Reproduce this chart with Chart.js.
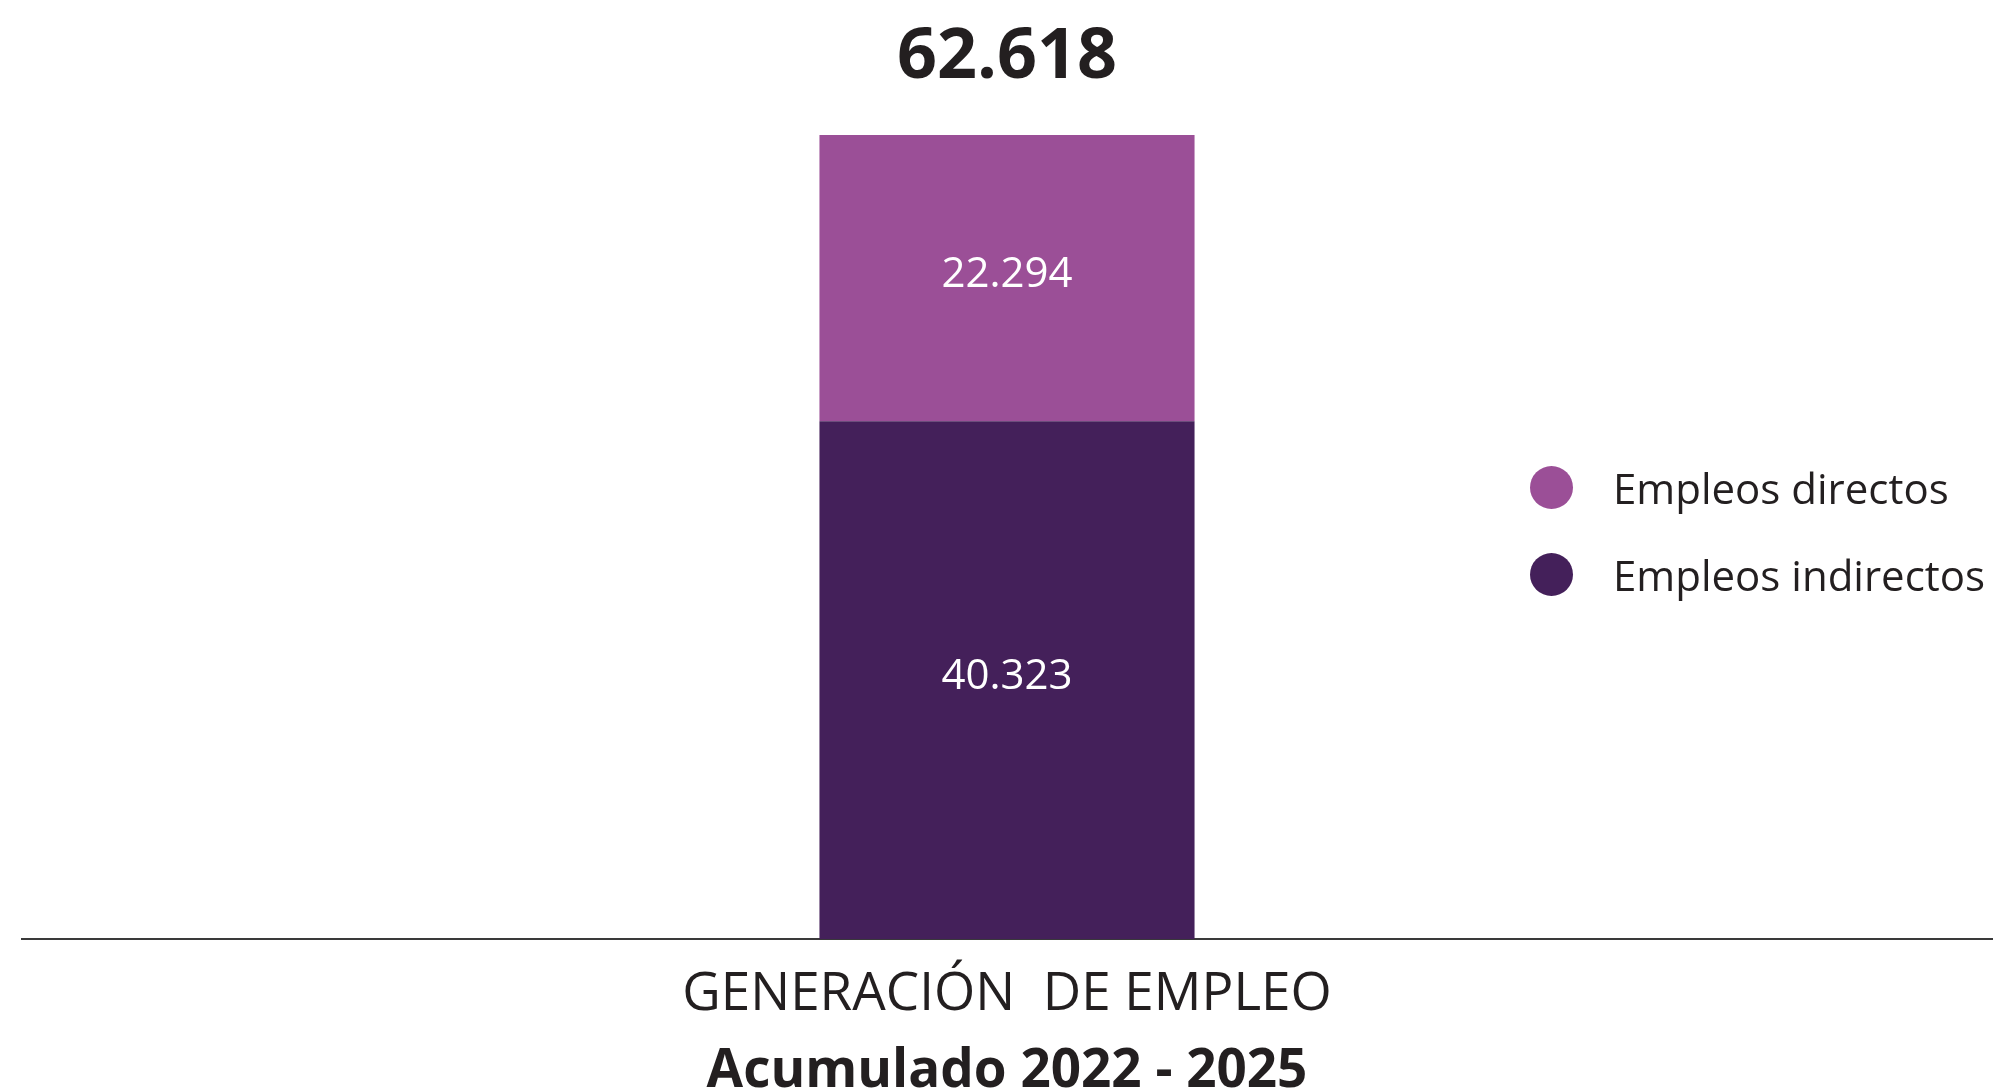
<!DOCTYPE html>
<html lang="es">
<head>
    <meta charset="UTF-8">
    <title>Generación de empleo</title>
    <script src="https://cdn.jsdelivr.net/npm/chart.js@4.4.1/dist/chart.umd.min.js"></script>
    <style>
        html, body {
            margin: 0;
            padding: 0;
            background: #ffffff;
        }
        .wrap {
            position: relative;
            width: 2003px;
            height: 1090px;
        }
        .legend {
            position: absolute;
            left: 1530px;
            top: 444px;
            font-family: 'Open Sans', sans-serif;
            font-size: 42px;
            color: #231f20;
        }
        .legend-item {
            display: flex;
            align-items: center;
            height: 87px;
        }
        .legend-dot {
            width: 43px;
            height: 43px;
            border-radius: 50%;
            margin-right: 40px;
        }
    </style>
</head>
<body>
<div class="wrap">
    <canvas id="empleoChart" width="2003" height="1090"></canvas>
    <div class="legend" id="legend"></div>
</div>
<script>
    // data
    const categories = ['GENERACIÓN  DE EMPLEO'];
    const subtitle = 'Acumulado 2022 - 2025';
    const seriesNames = ['Empleos indirectos', 'Empleos directos'];
    const indirectos = [40323];
    const directos = [22294];
    const totalLabel = '62.618';

    const colorDirectos = '#9b4f97';
    const colorIndirectos = '#44205a';
    const textColor = '#231f20';

    function fmt(n) {
        return String(n).replace(/\B(?=(\d{3})+(?!\d))/g, '.');
    }

    // white numbers inside each segment + total above the stack
    const labelsPlugin = {
        id: 'labels',
        afterDatasetsDraw(chart) {
            const ctx = chart.ctx;
            ctx.save();
            ctx.fillStyle = '#ffffff';
            ctx.font = '42px "Open Sans"';
            ctx.textAlign = 'center';
            ctx.textBaseline = 'middle';
            chart.data.datasets.forEach((ds, i) => {
                chart.getDatasetMeta(i).data.forEach((bar, j) => {
                    const mid = (bar.y + bar.base) / 2;
                    ctx.fillText(fmt(ds.data[j]), bar.x, mid - 3);
                });
            });
            const top = chart.getDatasetMeta(chart.data.datasets.length - 1).data[0];
            ctx.fillStyle = textColor;
            ctx.font = 'bold 70px "Open Sans"';
            ctx.textBaseline = 'alphabetic';
            ctx.fillText(totalLabel, top.x, top.y - 57);
            ctx.restore();
        }
    };

    const chart = new Chart(document.getElementById('empleoChart'), {
        type: 'bar',
        data: {
            labels: categories,
            datasets: [{
                label: seriesNames[0],
                data: indirectos,
                backgroundColor: colorIndirectos
            }, {
                label: seriesNames[1],
                data: directos,
                backgroundColor: colorDirectos
            }]
        },
        options: {
            responsive: false,
            animation: false,
            datasets: {
                bar: { categoryPercentage: 1, barPercentage: 0.1904 }
            },
            layout: {
                padding: { top: 135, left: 22, right: 11, bottom: 0 }
            },
            plugins: {
                legend: { display: false },
                tooltip: { enabled: false }
            },
            scales: {
                x: {
                    stacked: true,
                    grid: { display: false },
                    border: { display: true, color: '#3a3a3a', width: 2 },
                    ticks: {
                        color: textColor,
                        font: { family: 'Open Sans', size: 53 },
                        padding: 16
                    },
                    title: {
                        display: true,
                        text: subtitle,
                        color: textColor,
                        font: { family: 'Open Sans', size: 53, weight: 'bold', lineHeight: 0.7 },
                        padding: { top: 10, bottom: 0 }
                    }
                },
                y: {
                    stacked: true,
                    display: false,
                    min: 0,
                    max: indirectos[0] + directos[0]
                }
            }
        },
        plugins: [labelsPlugin]
    });

    // html legend, directos first as in the picture
    const legend = document.getElementById('legend');
    [[seriesNames[1], colorDirectos], [seriesNames[0], colorIndirectos]].forEach(([name, col]) => {
        const item = document.createElement('div');
        item.className = 'legend-item';
        item.innerHTML = '<span class="legend-dot" style="background:' + col + '"></span><span>' + name + '</span>';
        legend.appendChild(item);
    });
</script>
</body>
</html>
